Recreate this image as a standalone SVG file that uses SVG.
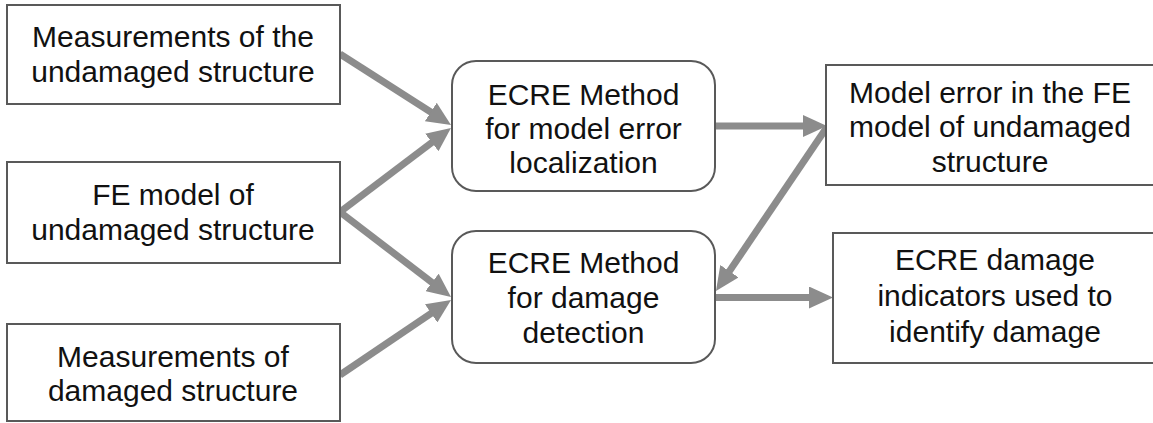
<svg xmlns="http://www.w3.org/2000/svg" width="1153" height="423" viewBox="0 0 1153 423">
<style>
.box{fill:#fff;stroke:#595959;stroke-width:2}
.t{font-family:"Liberation Sans",Arial,sans-serif;font-size:30px;fill:#111;text-anchor:middle}
.c{stroke:#8c8c8c;stroke-width:7;fill:none}
</style>
<defs>
<marker id="ah" markerUnits="userSpaceOnUse" viewBox="0 0 24 22" markerWidth="24" markerHeight="22" refX="12" refY="11" orient="auto">
<path d="M0,0 L24,11 L0,22 z" fill="#8c8c8c"/>
</marker>
</defs>
<rect width="1153" height="423" fill="#fff"/>
<g id="connectors">
<line class="c" x1="340" y1="54" x2="440.9" y2="118.5" marker-end="url(#ah)"/>
<line class="c" x1="340" y1="212" x2="441.4" y2="135.2" marker-end="url(#ah)"/>
<line class="c" x1="340" y1="212" x2="441.5" y2="289.7" marker-end="url(#ah)"/>
<line class="c" x1="340" y1="375" x2="441.1" y2="306.7" marker-end="url(#ah)"/>
<line class="c" x1="715" y1="126" x2="815" y2="126" marker-end="url(#ah)"/>
<line class="c" x1="827" y1="127" x2="722.7" y2="281.1" marker-end="url(#ah)"/>
<line class="c" x1="715" y1="297.5" x2="821" y2="297.5" marker-end="url(#ah)"/>
</g>
<g id="meas-undamaged">
<rect class="box" x="7" y="5" width="333" height="99"/>
<text class="t" x="173" y="47">Measurements of the</text>
<text class="t" x="173" y="82">undamaged structure</text>
</g>
<g id="fe-model">
<rect class="box" x="7" y="162" width="333" height="101"/>
<text class="t" x="173" y="205">FE model of</text>
<text class="t" x="173" y="240">undamaged structure</text>
</g>
<g id="meas-damaged">
<rect class="box" x="7" y="324" width="333" height="97"/>
<text class="t" x="173" y="367">Measurements of</text>
<text class="t" x="173" y="401">damaged structure</text>
</g>
<g id="ecre-localization">
<rect class="box" x="452" y="61" width="263" height="130" rx="24"/>
<text class="t" x="583.5" y="105">ECRE Method</text>
<text class="t" x="583.5" y="139">for model error</text>
<text class="t" x="583.5" y="173">localization</text>
</g>
<g id="ecre-detection">
<rect class="box" x="452" y="231" width="263" height="132" rx="24"/>
<text class="t" x="583.5" y="273">ECRE Method</text>
<text class="t" x="583.5" y="308">for damage</text>
<text class="t" x="583.5" y="343">detection</text>
</g>
<g id="model-error">
<rect class="box" x="826" y="65" width="340" height="120"/>
<text class="t" x="990" y="103">Model error in the FE</text>
<text class="t" x="990" y="137">model of undamaged</text>
<text class="t" x="990" y="172">structure</text>
</g>
<g id="damage-indicators">
<rect class="box" x="833" y="233" width="340" height="130"/>
<text class="t" x="995" y="270">ECRE damage</text>
<text class="t" x="995" y="306">indicators used to</text>
<text class="t" x="995" y="342">identify damage</text>
</g>
</svg>
